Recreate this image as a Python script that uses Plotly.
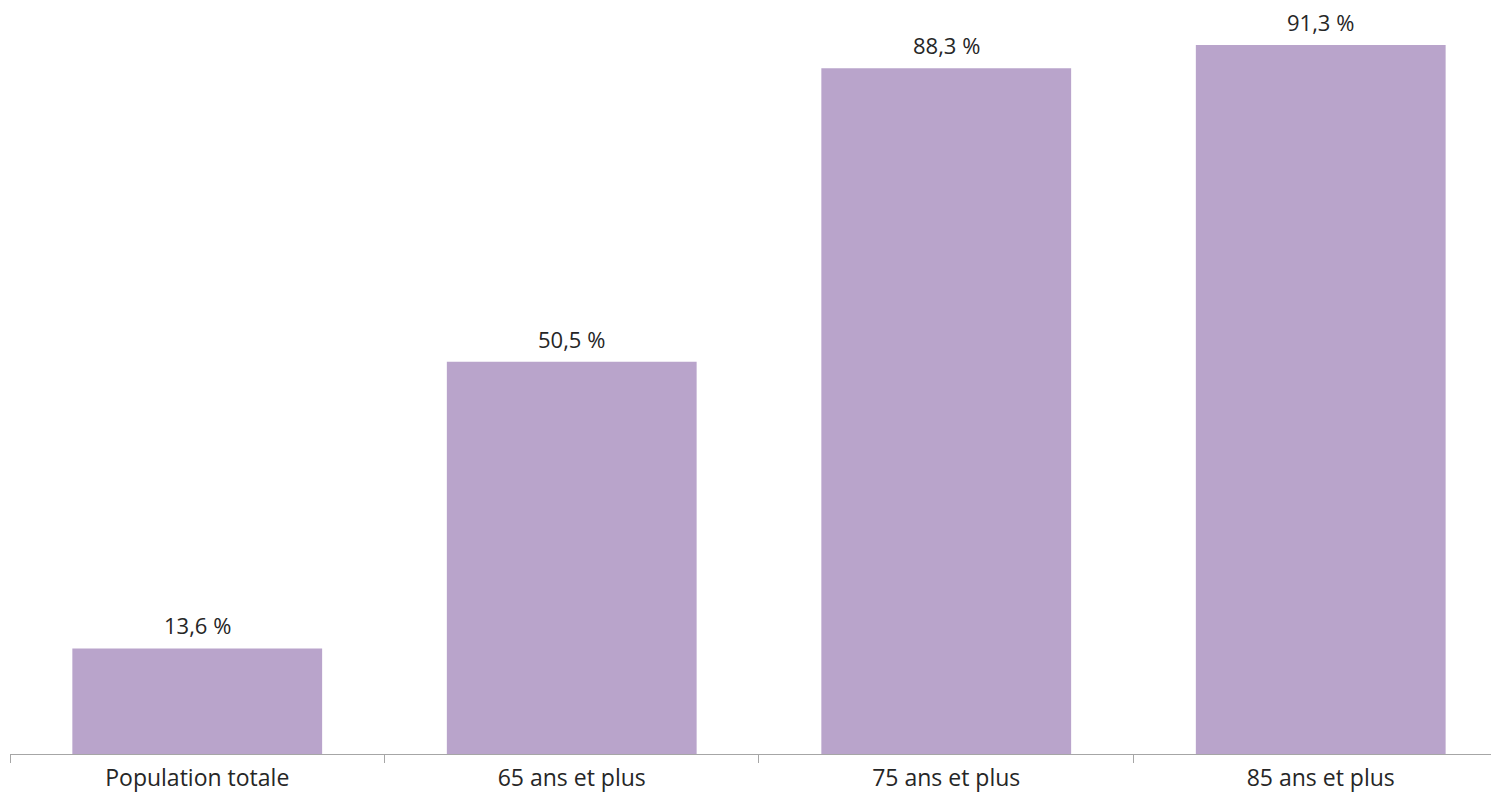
import plotly.graph_objects as go

categories = ["Population totale", "65 ans et plus", "75 ans et plus", "85 ans et plus"]
values = [13.6, 50.5, 88.3, 91.3]
labels = ["13,6 %", "50,5 %", "88,3 %", "91,3 %"]

FONT = "Open Sans"
TXT = "#262626"

fig = go.Figure(go.Bar(
    x=categories, y=values,
    marker=dict(color="#B9A4CB", line=dict(width=0)),
    width=0.667,
))

for c, v, t in zip(categories, values, labels):
    fig.add_annotation(
        x=c, y=v, text=t, showarrow=False,
        xanchor="center", yanchor="bottom", yshift=7, borderpad=0,
        font=dict(family=FONT, size=22, color=TXT),
    )

fig.update_layout(
    width=1491, height=788,
    margin=dict(l=2, r=0, t=0, b=42),
    paper_bgcolor="white", plot_bgcolor="white",
    showlegend=False,
    font=dict(family=FONT, size=23, color=TXT),
    xaxis=dict(
        type="category", range=[-0.5, 3.476],
        showline=True, linecolor="#A6A6A6", linewidth=1,
        ticks="outside", tickson="boundaries", ticklen=8, tickcolor="#A6A6A6",
        ticklabelstandoff=3,
        showgrid=False, zeroline=False,
        tickfont=dict(family=FONT, size=23, color=TXT),
    ),
    yaxis=dict(range=[0, 96.06], visible=False, showgrid=False, zeroline=False),
)

fig.write_html("out.html")
